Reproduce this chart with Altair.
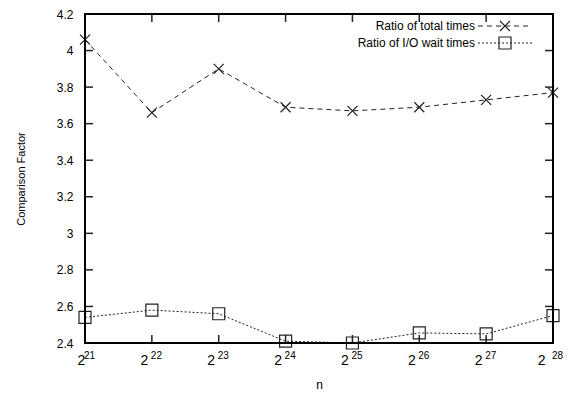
import altair as alt
import pandas as pd

# ---- data ----
exponents = [21, 22, 23, 24, 25, 26, 27, 28]
exp_labels = ["21", "22", "23", "24", "25", "26", "27", "28"]
total_ratio = [4.06, 3.66, 3.90, 3.69, 3.67, 3.69, 3.73, 3.77]
io_ratio = [2.54, 2.58, 2.56, 2.41, 2.40, 2.455, 2.45, 2.55]
series_names = ["Ratio of total times", "Ratio of I/O wait times"]
y_ticks = [2.4, 2.6, 2.8, 3.0, 3.2, 3.4, 3.6, 3.8, 4.0, 4.2]

W, H = 468, 329
FONT = "Liberation Sans"
INK = "#222222"
X_PATH = "M-1,-1L1,1M-1,1L1,-1"

xs = alt.Scale(domain=[21, 28], nice=False, zero=False)
ys = alt.Scale(domain=[2.4, 4.2], nice=False, zero=False)

df_total = pd.DataFrame({"n": exponents, "v": total_ratio})
df_io = pd.DataFrame({"n": exponents, "v": io_ratio})
df_yt = pd.DataFrame({"v": y_ticks})
df_xt = pd.DataFrame({"n": exponents, "lab": exp_labels})
df_one = pd.DataFrame({"k": [1]})

x_axis = alt.Axis(
    values=exponents, labelExpr="'2'", labelFontSize=14, labelOffset=-8,
    labelPadding=10, domain=False, ticks=False, grid=False,
    title="n", titleFontSize=12, titleFontWeight="normal", titlePadding=12,
    labelColor="black", titleColor="black", labelFont=FONT, titleFont=FONT,
)
y_axis = alt.Axis(
    values=y_ticks, format="~g", labelFontSize=12, labelPadding=12,
    domain=False, ticks=False, grid=False,
    title="Comparison Factor", titleFontSize=11, titleFontWeight="normal",
    titlePadding=30, labelColor="black", titleColor="black",
    labelFont=FONT, titleFont=FONT,
)


def X():
    return alt.X("n:Q", scale=xs, axis=x_axis, title="n")


def Y():
    return alt.Y("v:Q", scale=ys, axis=y_axis, title="Comparison Factor")


base_total = alt.Chart(df_total).encode(x=X(), y=Y())
line_total = base_total.mark_line(color=INK, strokeWidth=1, strokeDash=[5, 4])
pts_total = base_total.mark_point(shape=X_PATH, size=100, filled=False,
                                  color=INK, strokeWidth=1.2, opacity=1)

base_io = alt.Chart(df_io).encode(x=X(), y=Y())
line_io = base_io.mark_line(color=INK, strokeWidth=1, strokeDash=[2, 2])
pts_io = base_io.mark_point(shape="square", size=144, filled=False,
                            color=INK, strokeWidth=1.2, opacity=1)

# inward mirrored ticks (gnuplot style)
TL = 8
tick_left = alt.Chart(df_yt).mark_rule(color=INK, strokeWidth=1.5, opacity=1).encode(
    y=Y(), x=alt.value(0), x2=alt.value(TL))
tick_right = alt.Chart(df_yt).mark_rule(color=INK, strokeWidth=1.5, opacity=1).encode(
    y=Y(), x=alt.value(W - TL), x2=alt.value(W))
tick_bottom = alt.Chart(df_xt).mark_rule(color=INK, strokeWidth=1.5, opacity=1).encode(
    x=X(), y=alt.value(H - TL), y2=alt.value(H))
tick_top = alt.Chart(df_xt).mark_rule(color=INK, strokeWidth=1.5, opacity=1).encode(
    x=X(), y=alt.value(0), y2=alt.value(TL))

# border box
frame = alt.Chart(df_one).mark_rect(filled=False, stroke="black", strokeWidth=2,
                                    fillOpacity=0).encode(
    x=alt.value(0), x2=alt.value(W), y=alt.value(0), y2=alt.value(H))

exp_text = alt.Chart(df_xt).mark_text(
    fontSize=10, align="left", baseline="top", dx=-1, font=FONT, color="black"
).encode(x=X(), y=alt.value(H + 8), text="lab:N")

# ---- legend (gnuplot style: text then sample) ----
df_l1 = pd.DataFrame({"name": [series_names[0]]})
df_l2 = pd.DataFrame({"name": [series_names[1]]})
LX_TEXT, LX0, LX1, LXS = 390, 393, 447, 420
LY1, LY2 = 12, 29
leg_t1 = alt.Chart(df_l1).mark_text(fontSize=12, align="right", baseline="middle",
                                    font=FONT, color="black").encode(
    text="name:N", x=alt.value(LX_TEXT), y=alt.value(LY1))
leg_t2 = alt.Chart(df_l2).mark_text(fontSize=12, align="right", baseline="middle",
                                    font=FONT, color="black").encode(
    text="name:N", x=alt.value(LX_TEXT), y=alt.value(LY2))
leg_r1 = alt.Chart(df_l1).mark_rule(color=INK, strokeWidth=1, strokeDash=[5, 4]).encode(
    x=alt.value(LX0), x2=alt.value(LX1), y=alt.value(LY1))
leg_r2 = alt.Chart(df_l2).mark_rule(color=INK, strokeWidth=1, strokeDash=[2, 2]).encode(
    x=alt.value(LX0), x2=alt.value(LX1), y=alt.value(LY2))
leg_p1 = alt.Chart(df_l1).mark_point(shape=X_PATH, size=100, filled=False, color=INK,
                                     strokeWidth=1.2, opacity=1).encode(
    x=alt.value(LXS), y=alt.value(LY1))
leg_p2 = alt.Chart(df_l2).mark_point(shape="square", size=144, filled=False, color=INK,
                                     strokeWidth=1.2, opacity=1).encode(
    x=alt.value(LXS), y=alt.value(LY2))

chart = alt.layer(
    line_total, line_io, pts_total, pts_io,
    tick_left, tick_right, tick_bottom, tick_top, frame, exp_text,
    leg_t1, leg_t2, leg_r1, leg_r2, leg_p1, leg_p2,
).properties(
    width=W, height=H,
    autosize=alt.AutoSizeParams(type="none"),
    padding={"left": 77, "top": 6, "right": 16, "bottom": 50},
    background="white",
).configure_view(
    stroke="black", strokeWidth=2
).configure_axis(
    labelFont=FONT, titleFont=FONT
)

chart.save("out.html", embed_options={"renderer": "svg", "actions": False})
